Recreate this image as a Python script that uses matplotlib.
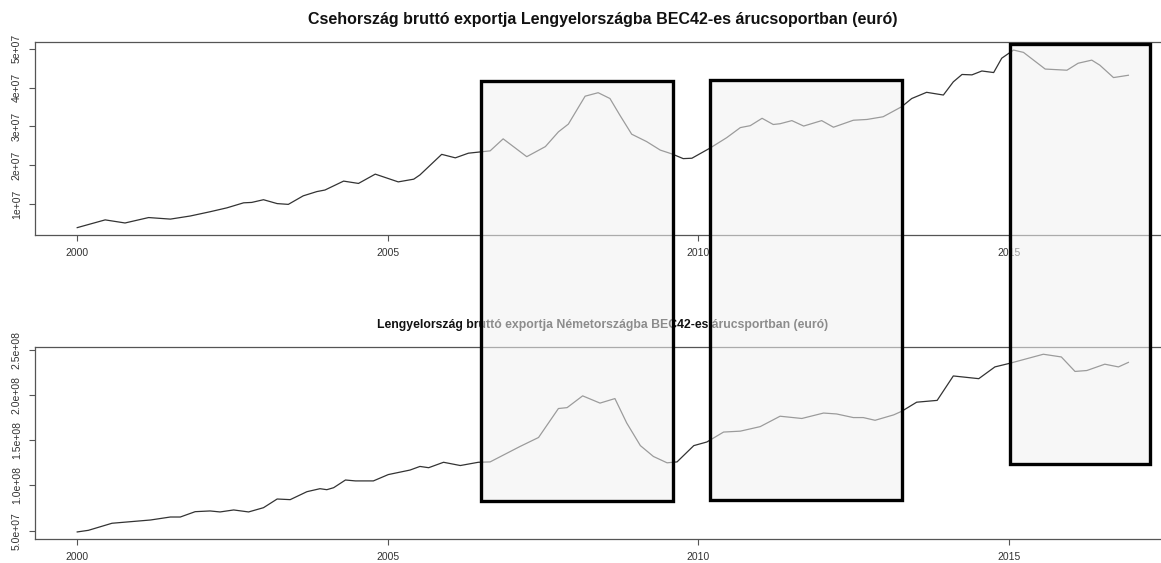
import matplotlib
matplotlib.use("Agg")
import matplotlib.pyplot as plt
from matplotlib.patches import Rectangle

plt.rcParams['font.family'] = ['Liberation Sans', 'DejaVu Sans']

# Czech gross exports to Poland, BEC42 goods group (EUR)
cz_time = [2000.0, 2000.45, 2000.77, 2001.15, 2001.5, 2001.82, 2002.14, 2002.41, 2002.68,
           2002.81, 2003.0, 2003.22, 2003.4, 2003.64, 2003.86, 2003.99, 2004.29, 2004.53,
           2004.8, 2005.17, 2005.42, 2005.52, 2005.87, 2006.09, 2006.3, 2006.65, 2006.86,
           2007.24, 2007.54, 2007.75, 2007.91, 2008.18, 2008.39, 2008.58, 2008.74, 2008.93,
           2009.17, 2009.39, 2009.58, 2009.76, 2009.9, 2010.19, 2010.46, 2010.68, 2010.84,
           2011.03, 2011.21, 2011.32, 2011.51, 2011.7, 2011.99, 2012.18, 2012.5, 2012.72,
           2012.98, 2013.28, 2013.44, 2013.68, 2013.95, 2014.11, 2014.25, 2014.41, 2014.57,
           2014.76, 2014.89, 2015.08, 2015.24, 2015.59, 2015.94, 2016.12, 2016.34, 2016.47,
           2016.69, 2016.93]
cz_value = [3.9e6, 5.9e6, 5.1e6, 6.5e6, 6.1e6, 6.9e6, 8.0e6, 9.0e6, 1.03e7,
            1.04e7, 1.11e7, 1.01e7, 9.9e6, 1.21e7, 1.32e7, 1.36e7, 1.59e7, 1.53e7,
            1.77e7, 1.57e7, 1.64e7, 1.75e7, 2.28e7, 2.19e7, 2.31e7, 2.37e7, 2.68e7,
            2.22e7, 2.48e7, 2.86e7, 3.06e7, 3.78e7, 3.87e7, 3.72e7, 3.29e7, 2.80e7,
            2.61e7, 2.39e7, 2.29e7, 2.17e7, 2.18e7, 2.44e7, 2.71e7, 2.97e7, 3.02e7,
            3.21e7, 3.05e7, 3.07e7, 3.15e7, 3.01e7, 3.15e7, 2.98e7, 3.16e7, 3.18e7,
            3.25e7, 3.51e7, 3.72e7, 3.88e7, 3.81e7, 4.15e7, 4.34e7, 4.33e7, 4.43e7,
            4.39e7, 4.76e7, 4.97e7, 4.91e7, 4.48e7, 4.45e7, 4.63e7, 4.71e7, 4.58e7,
            4.26e7, 4.32e7]

# Polish gross exports to Germany, BEC42 goods group (EUR)
pl_time = [2000.0, 2000.18, 2000.56, 2001.18, 2001.5, 2001.66, 2001.9, 2002.14, 2002.3,
           2002.52, 2002.76, 2003.0, 2003.22, 2003.43, 2003.7, 2003.91, 2004.02, 2004.13,
           2004.32, 2004.48, 2004.77, 2005.01, 2005.36, 2005.52, 2005.66, 2005.9, 2006.17,
           2006.46, 2006.65, 2007.13, 2007.43, 2007.75, 2007.89, 2008.14, 2008.42, 2008.66,
           2008.85, 2009.07, 2009.28, 2009.5, 2009.66, 2009.93, 2010.14, 2010.41, 2010.68,
           2011.0, 2011.32, 2011.67, 2012.02, 2012.23, 2012.5, 2012.66, 2012.85, 2013.15,
           2013.28, 2013.52, 2013.85, 2014.11, 2014.52, 2014.78, 2015.02, 2015.29, 2015.56,
           2015.85, 2016.07, 2016.26, 2016.55, 2016.77, 2016.93]
pl_value = [4.86e7, 5.04e7, 5.82e7, 6.18e7, 6.51e7, 6.51e7, 7.10e7, 7.18e7, 7.07e7,
            7.29e7, 7.07e7, 7.54e7, 8.50e7, 8.43e7, 9.31e7, 9.64e7, 9.53e7, 9.75e7,
            1.06e8, 1.05e8, 1.05e8, 1.12e8, 1.17e8, 1.21e8, 1.196e8, 1.256e8, 1.22e8,
            1.256e8, 1.26e8, 1.43e8, 1.53e8, 1.85e8, 1.86e8, 1.99e8, 1.91e8, 1.96e8,
            1.69e8, 1.44e8, 1.32e8, 1.25e8, 1.26e8, 1.44e8, 1.48e8, 1.59e8, 1.60e8,
            1.65e8, 1.765e8, 1.74e8, 1.80e8, 1.79e8, 1.75e8, 1.75e8, 1.72e8, 1.78e8,
            1.82e8, 1.92e8, 1.94e8, 2.21e8, 2.18e8, 2.31e8, 2.35e8, 2.40e8, 2.45e8,
            2.42e8, 2.26e8, 2.27e8, 2.34e8, 2.31e8, 2.36e8]

year_ticks = [2000, 2005, 2010, 2015]
cz_ticks = [1e7, 2e7, 3e7, 4e7, 5e7]
cz_labels = ["1e+07", "2e+07", "3e+07", "4e+07", "5e+07"]
pl_ticks = [5e7, 1e8, 1.5e8, 2e8, 2.5e8]
pl_labels = ["5.0e+07", "1.0e+08", "1.5e+08", "2.0e+08", "2.5e+08"]

titles = ["Csehország bruttó exportja Lengyelországba BEC42-es árucsoportban (euró)",
          "Lengyelország bruttó exportja Németországba BEC42-es árucsportban (euró)"]

W, H = 1161, 563
fig = plt.figure(figsize=(W / 100, H / 100), dpi=100)

def px_axes(left, top, right, bottom):
    return fig.add_axes([left / W, 1 - bottom / H, (right - left) / W, (bottom - top) / H])

ax1 = px_axes(35, 42.3, 1170, 235)
ax2 = px_axes(35, 347, 1170, 539)

panels = [
    (ax1, cz_time, cz_value, cz_ticks, cz_labels, (2.0e6, 5.17e7), titles[0], 11.5, 13),
    (ax2, pl_time, pl_value, pl_ticks, pl_labels, (4.08e7, 2.53e8), titles[1], 8.8, 14),
]

axis_col = "#555555"
for ax, t, v, yt, yl, ylim, title, tsize, tpad in panels:
    ax.plot(t, v, color="#333333", lw=0.9)
    ax.set_xlim(1999.32, 2017.6)
    ax.set_ylim(*ylim)
    ax.set_xticks(year_ticks)
    ax.set_xticklabels([str(y) for y in year_ticks])
    ax.set_yticks(yt)
    ax.set_yticklabels(yl, rotation=90, va="center")
    ax.tick_params(axis="both", direction="out", length=4.5, width=0.8,
                   colors=axis_col, labelcolor="#333333", labelsize=7.5, pad=5)
    for side in ["left", "top", "bottom"]:
        ax.spines[side].set_color(axis_col)
        ax.spines[side].set_linewidth(0.9)
    ax.spines["right"].set_visible(False)
    ax.set_title(title, fontsize=tsize, fontweight="bold", color="#111111", pad=tpad)

# Highlighted periods, drawn across both panels
boxes_px = [(481, 81, 673, 501), (710, 79.5, 902, 499.5), (1010, 44, 1150, 464)]
for l, t, r, b in boxes_px:
    fig.patches.append(Rectangle((l / W, 1 - b / H), (r - l) / W, (b - t) / H,
                                 transform=fig.transFigure, facecolor=(0.95, 0.95, 0.95),
                                 alpha=0.55, edgecolor="none", zorder=10))
    fig.patches.append(Rectangle((l / W, 1 - b / H), (r - l) / W, (b - t) / H,
                                 transform=fig.transFigure, facecolor="none",
                                 edgecolor="black", lw=2.4, zorder=11))

fig.savefig("out.png", dpi=100)
